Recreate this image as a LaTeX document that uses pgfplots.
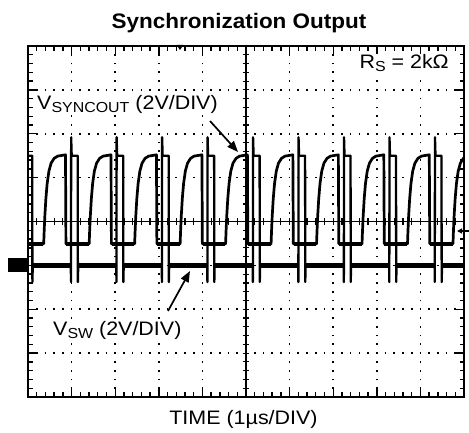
\documentclass[border=0pt]{standalone}
\usepackage{graphicx}
\usepackage{pgfplots}
\pgfplotsset{compat=1.18}
\usepackage{fontspec}
\setmainfont{Liberation Sans}
\usetikzlibrary{arrows.meta}
\newcommand{\lbl}[1]{\scalebox{1.1}[1]{\fontsize{19.5}{21}\selectfont #1}}
\newcommand{\sub}[1]{{\fontsize{14.5}{14.5}\selectfont\raisebox{-2.5pt}{#1}}}
\begin{document}
\begin{tikzpicture}
\useasboundingbox (-28pt,-36pt) rectangle (441pt,397pt);
\begin{axis}[
  scale only axis, width=436pt, height=351pt,
  xmin=0,xmax=10,ymin=-4,ymax=4,
  xtick={0,...,10}, ytick={-4,...,4},
  minor x tick num=4, minor y tick num=4,
  xticklabels={}, yticklabels={},
  tick align=inside,
  major tick length=8.5pt, minor tick length=4.5pt,
  every tick/.style={black, line width=1.4pt},
  axis line style={line width=1.9pt},
  grid=major,
  x grid style={black, line width=1.7pt, dash pattern=on 1.7pt off 7.075pt, dash phase=0.85pt},
  y grid style={black, line width=1.7pt, dash pattern=on 1.7pt off 7.02pt, dash phase=0.85pt},
  unbounded coords=jump,
]
% V_SYNCOUT
\addplot[black, line width=2.7pt, line join=round] coordinates {
(0,-0.51)
(0.360,-0.51)(0.370,-0.24)(0.385,0.10)(0.410,0.52)(0.440,0.87)(0.480,1.15)(0.530,1.33)(0.600,1.44)(0.680,1.49)(0.860,1.52)(0.870,-0.51)
(1.403,-0.51)(1.413,-0.24)(1.428,0.10)(1.453,0.52)(1.483,0.87)(1.523,1.15)(1.573,1.33)(1.643,1.44)(1.723,1.49)(1.903,1.52)(1.913,-0.51)
(2.446,-0.51)(2.456,-0.24)(2.471,0.10)(2.496,0.52)(2.526,0.87)(2.566,1.15)(2.616,1.33)(2.686,1.44)(2.766,1.49)(2.946,1.52)(2.956,-0.51)
(3.489,-0.51)(3.499,-0.24)(3.514,0.10)(3.539,0.52)(3.569,0.87)(3.609,1.15)(3.659,1.33)(3.729,1.44)(3.809,1.49)(3.989,1.52)(3.999,-0.51)
(4.532,-0.51)(4.542,-0.24)(4.557,0.10)(4.582,0.52)(4.612,0.87)(4.652,1.15)(4.702,1.33)(4.772,1.44)(4.852,1.49)(5.032,1.52)(5.042,-0.51)
(5.575,-0.51)(5.585,-0.24)(5.600,0.10)(5.625,0.52)(5.655,0.87)(5.695,1.15)(5.745,1.33)(5.815,1.44)(5.895,1.49)(6.075,1.52)(6.085,-0.51)
(6.618,-0.51)(6.628,-0.24)(6.643,0.10)(6.668,0.52)(6.698,0.87)(6.738,1.15)(6.788,1.33)(6.858,1.44)(6.938,1.49)(7.118,1.52)(7.128,-0.51)
(7.661,-0.51)(7.671,-0.24)(7.686,0.10)(7.711,0.52)(7.741,0.87)(7.781,1.15)(7.831,1.33)(7.901,1.44)(7.981,1.49)(8.161,1.52)(8.171,-0.51)
(8.704,-0.51)(8.714,-0.24)(8.729,0.10)(8.754,0.52)(8.784,0.87)(8.824,1.15)(8.874,1.33)(8.944,1.44)(9.024,1.49)(9.204,1.52)(9.214,-0.51)
(9.747,-0.51)(9.757,-0.24)(9.772,0.10)(9.797,0.52)(9.827,0.87)(9.867,1.15)(9.917,1.33)(9.987,1.44)(10,1.45)
};
% thick (noisy) low level of V_SYNCOUT
\addplot[black, line width=4pt] coordinates {
(0,-0.51)(0.355,-0.51)(0.4,nan)
(0.875,-0.51)(1.398,-0.51)(1.4,nan)
(1.918,-0.51)(2.441,-0.51)(2.45,nan)
(2.961,-0.51)(3.484,-0.51)(3.49,nan)
(4.004,-0.51)(4.527,-0.51)(4.53,nan)
(5.047,-0.51)(5.570,-0.51)(5.58,nan)
(6.090,-0.51)(6.613,-0.51)(6.62,nan)
(7.133,-0.51)(7.656,-0.51)(7.66,nan)
(8.176,-0.51)(8.699,-0.51)(8.70,nan)
(9.219,-0.51)(9.742,-0.51)
};
% V_SW
\addplot[black, line width=2.3pt, line join=round] coordinates {
(0,1.5)(0.097,1.5)(0.101,-1.38)(0.109,-1.0)
(0.982,-1)(0.986,-1.38)(0.990,1.92)(1.002,1.5)(1.140,1.5)(1.144,-1.38)(1.152,-1)
(2.025,-1)(2.029,-1.38)(2.033,1.92)(2.045,1.5)(2.183,1.5)(2.187,-1.38)(2.195,-1)
(3.068,-1)(3.072,-1.38)(3.076,1.92)(3.088,1.5)(3.226,1.5)(3.230,-1.38)(3.238,-1)
(4.111,-1)(4.115,-1.38)(4.119,1.92)(4.131,1.5)(4.269,1.5)(4.273,-1.38)(4.281,-1)
(5.154,-1)(5.158,-1.38)(5.162,1.92)(5.174,1.5)(5.312,1.5)(5.316,-1.38)(5.324,-1)
(6.197,-1)(6.201,-1.38)(6.205,1.92)(6.217,1.5)(6.355,1.5)(6.359,-1.38)(6.367,-1)
(7.240,-1)(7.244,-1.38)(7.248,1.92)(7.260,1.5)(7.398,1.5)(7.402,-1.38)(7.410,-1)
(8.283,-1)(8.287,-1.38)(8.291,1.92)(8.303,1.5)(8.441,1.5)(8.445,-1.38)(8.453,-1)
(9.326,-1)(9.330,-1.38)(9.334,1.92)(9.346,1.5)(9.484,1.5)(9.488,-1.38)(9.496,-1)
(10,-1)
};
% thick (noisy) baseline of V_SW
\addplot[black, line width=4.6pt] coordinates {
(0.115,-1)(0.978,-1)(1,nan)
(1.156,-1)(2.021,-1)(2.1,nan)
(2.199,-1)(3.064,-1)(3.1,nan)
(3.242,-1)(4.107,-1)(4.2,nan)
(4.285,-1)(5.150,-1)(5.2,nan)
(5.328,-1)(6.193,-1)(6.2,nan)
(6.371,-1)(7.236,-1)(7.3,nan)
(7.414,-1)(8.279,-1)(8.3,nan)
(8.457,-1)(9.322,-1)(9.4,nan)
(9.500,-1)(10,-1)
};
\end{axis}
\begin{axis}[
  scale only axis, width=436pt, height=351pt,
  xmin=-5,xmax=5,ymin=-4,ymax=4,
  axis lines=middle,
  axis line style={-, line width=1.6pt},
  xtick distance=0.2, ytick distance=0.2,
  xticklabels={}, yticklabels={},
  tick align=center, major tick length=6.5pt,
  every tick/.style={black, line width=1.2pt},
]
\end{axis}
% annotations
\node[anchor=base, inner sep=0] at (211pt,368.7pt) {\scalebox{1.07}[1]{\fontsize{21}{24}\selectfont\bfseries Synchronization Output}};
\node[anchor=base west, inner sep=1pt, fill=white] at (8pt,287pt) {\lbl{V\sub{SYNCOUT} (2V/DIV)}};
\node[anchor=base west, inner sep=1pt, fill=white] at (24pt,61pt) {\lbl{V\sub{SW} (2V/DIV)}};
\node[anchor=base east, inner sep=1pt, fill=white] at (422pt,328pt) {\lbl{R\sub{S} = 2kΩ}};
\node[anchor=base, inner sep=0] at (215.5pt,-28pt) {\lbl{TIME (1µs/DIV)}};
\draw[line width=1.7pt, -{Triangle[length=11pt,width=8.5pt]}] (182pt,276pt) -- (210pt,245pt);
\draw[line width=1.7pt, -{Triangle[length=11pt,width=8.5pt]}] (140pt,86pt) -- (162pt,126pt);
\fill (148.5pt,352pt) -- (155.5pt,352pt) -- (152pt,347pt) -- cycle;
\fill (-20pt,125pt) rectangle (-1pt,139pt);
\draw[line width=1.3pt, -{Triangle[length=5pt,width=5pt]}] (441pt,166pt) -- (429pt,166pt);
\end{tikzpicture}
\end{document}
